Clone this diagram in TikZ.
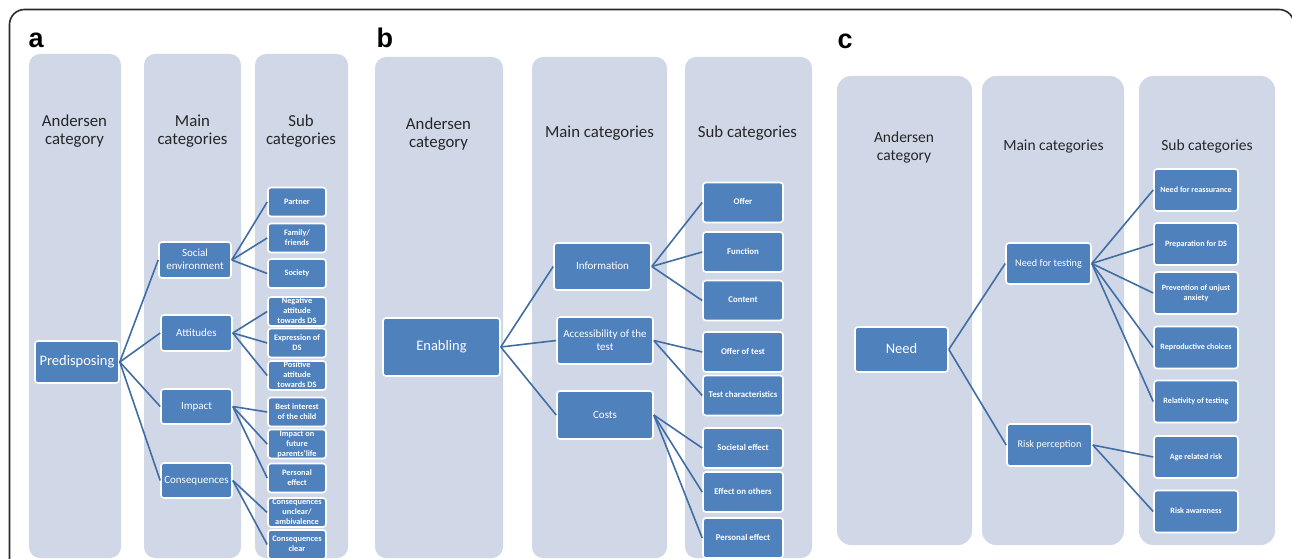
\documentclass[tikz,border=0pt]{standalone}
\usepackage{fontspec}
\setmainfont{Carlito}
\newfontfamily\labfont{Liberation Sans}
\definecolor{colbg}{HTML}{D0D8E8}
\definecolor{nodeblue}{HTML}{4F81BD}
\definecolor{connc}{HTML}{416DA3}
\definecolor{hdrcol}{HTML}{262626}
\definecolor{framecol}{HTML}{2A2A2A}
\newcommand\stk[1]{\makebox[0pt]{\smash{\raisebox{-0.3em}{\begin{tabular}{@{}c@{}}#1\end{tabular}}}}}
\begin{document}
\begin{tikzpicture}[x=1pt,y=-1pt,
  colbox/.style={fill=colbg, draw=none, rounded corners=11pt},
  nbox/.style={rectangle, fill=nodeblue, draw=white, line width=1.6pt, rounded corners=3pt, text=white, inner sep=0pt},
  topbox/.style={nbox, font=\fontsize{14.5}{16}\selectfont},
  mainab/.style={nbox, font=\fontsize{11}{13}\selectfont},
  mainc/.style={nbox, font=\fontsize{10.2}{12}\selectfont},
  suba/.style={nbox, minimum width=58pt, minimum height=29pt, font=\bfseries\fontsize{8.3}{10}\selectfont},
  subb/.style={nbox, minimum width=80pt, minimum height=40pt, font=\bfseries\fontsize{8.8}{10.5}\selectfont},
  subc/.style={nbox, minimum width=84pt, minimum height=42pt, font=\bfseries\fontsize{8.1}{10}\selectfont},
  conn/.style={draw=connc, line width=1.6pt},
  hdra/.style={text=hdrcol, align=center, inner sep=0pt, font=\fontsize{16.8}{18}\selectfont},
  hdrc/.style={text=hdrcol, align=center, inner sep=0pt, font=\fontsize{15.5}{18}\selectfont},
  plabel/.style={font=\labfont\bfseries\fontsize{27}{27}\selectfont, anchor=base west, inner sep=0pt, text=black}
]
\useasboundingbox (0,0) rectangle (1292,559);
\clip (0,0) rectangle (1292,559);
\fill[white] (0,0) rectangle (1292,559);
\draw[framecol, line width=1.6pt, rounded corners=15pt] (9.5,9.5) rectangle (1294,650);

% ---------- panel a ----------
\node[plabel] (la) at (28.5,48) {a};
\fill[colbox] (29,54) rectangle (121,558);
\fill[colbox] (144,54) rectangle (241,558);
\fill[colbox] (255,54) rectangle (348,558);
\node[hdra] (ha1) at (74.5,131) {Andersen\\category};
\node[hdra] (ha2) at (192.5,131) {Main\\categories};
\node[hdra] (ha3) at (301,131) {Sub\\categories};

\node[topbox, minimum width=84pt, minimum height=42pt] (pred) at (77,362) {\stk{Predisposing}};
\node[mainab, minimum width=72pt, minimum height=36pt] (soc) at (195,260) {\stk{Social\\environment}};
\node[mainab, minimum width=71pt, minimum height=36pt] (att) at (196.5,333) {\stk{Attitudes}};
\node[mainab, minimum width=71pt, minimum height=35pt] (imp) at (196.5,406.5) {\stk{Impact}};
\node[mainab, minimum width=71pt, minimum height=35pt] (cons) at (196.5,480.5) {\stk{Consequences}};

\node[suba] (partner) at (297,202) {\stk{Partner}};
\node[suba] (family) at (297,238) {\stk{Family/\\friends}};
\node[suba] (society) at (297,273.5) {\stk{Society}};
\node[suba] (neg) at (297,311.5) {\stk{Negative\\attitude\\towards DS}};
\node[suba] (expr) at (297,343) {\stk{Expression of\\DS}};
\node[suba] (pos) at (297,375.5) {\stk{Positive\\attitude\\towards DS}};
\node[suba] (best) at (297,412) {\stk{Best interest\\of the child}};
\node[suba] (impfut) at (297,444) {\stk{Impact on\\future\\parents’life}};
\node[suba] (persa) at (297,478) {\stk{Personal\\effect}};
\node[suba] (consunc) at (297,512.5) {\stk{Consequences\\unclear/\\ambivalence}};
\node[suba] (consclr) at (297,544.5) {\stk{Consequences\\clear}};

\foreach \m in {soc,att,imp,cons} \draw[conn] (pred.east) -- (\m.west);
\foreach \s in {partner,family,society} \draw[conn] (soc.east) -- (\s.west);
\foreach \s in {neg,expr,pos} \draw[conn] (att.east) -- (\s.west);
\foreach \s in {best,impfut,persa} \draw[conn] (imp.east) -- (\s.west);
\foreach \s in {consunc,consclr} \draw[conn] (cons.east) -- (\s.west);

% ---------- panel b ----------
\node[plabel] (lb) at (376.5,48) {b};
\fill[colbox] (375,57) rectangle (503,558);
\fill[colbox] (532,57) rectangle (667,558);
\fill[colbox] (685,57) rectangle (812,558);
\node[hdra] (hb1) at (438.5,134) {Andersen\\category};
\node[hdra] (hb2) at (599.5,133.5) {Main categories};
\node[hdra] (hb3) at (747.5,133.5) {Sub categories};

\node[topbox, minimum width=117pt, minimum height=58pt] (en) at (441.5,347) {\stk{Enabling}};
\node[mainab, minimum width=97pt, minimum height=47pt] (info) at (602.5,266.5) {\stk{Information}};
\node[mainab, minimum width=96pt, minimum height=47pt] (acc) at (605,340.5) {\stk{Accessibility of the\\test}};
\node[mainab, minimum width=96pt, minimum height=48pt] (costs) at (605,415) {\stk{Costs}};

\node[subb] (offer) at (743,202.5) {\stk{Offer}};
\node[subb] (func) at (743,252) {\stk{Function}};
\node[subb] (content) at (743,300.5) {\stk{Content}};
\node[subb] (offtest) at (743,352) {\stk{Offer of test}};
\node[subb] (testch) at (743,395.5) {\stk{Test characteristics}};
\node[subb] (societal) at (743,448) {\stk{Societal effect}};
\node[subb] (others) at (743,492) {\stk{Effect on others}};
\node[subb] (persb) at (743,538) {\stk{Personal effect}};

\foreach \m in {info,acc,costs} \draw[conn] (en.east) -- (\m.west);
\foreach \s in {offer,func,content} \draw[conn] (info.east) -- (\s.west);
\foreach \s in {offtest,testch} \draw[conn] (acc.east) -- (\s.west);
\foreach \s in {societal,others,persb} \draw[conn] (costs.east) -- (\s.west);

% ---------- panel c ----------
\node[plabel] (lc) at (837.5,49) {c};
\fill[colbox, rounded corners=14pt] (837,76) rectangle (972,545);
\fill[colbox, rounded corners=14pt] (982,76) rectangle (1124,545);
\fill[colbox, rounded corners=14pt] (1139,76) rectangle (1275,545);
\node[hdrc] (hc1) at (904,147) {Andersen\\category};
\node[hdrc] (hc2) at (1053.5,146.5) {Main categories};
\node[hdrc] (hc3) at (1207,146.5) {Sub categories};

\node[topbox, minimum width=93pt, minimum height=45pt] (need) at (901.5,349.5) {\stk{Need}};
\node[mainc, minimum width=85pt, minimum height=41pt] (nft) at (1048.5,263.5) {\stk{Need for testing}};
\node[mainc, minimum width=85pt, minimum height=42pt] (risk) at (1049.5,445) {\stk{Risk perception}};

\node[subc] (reass) at (1196,190) {\stk{Need for reassurance}};
\node[subc] (prep) at (1196,244) {\stk{Preparation for DS}};
\node[subc] (prev) at (1196,293) {\stk{Prevention of unjust\\anxiety}};
\node[subc] (repro) at (1196,347.5) {\stk{Reproductive choices}};
\node[subc] (rel) at (1196,401.5) {\stk{Relativity of testing}};
\node[subc] (age) at (1196,457) {\stk{Age related risk}};
\node[subc] (aware) at (1196,511.5) {\stk{Risk awareness}};

\foreach \m in {nft,risk} \draw[conn] (need.east) -- (\m.west);
\foreach \s in {reass,prep,prev,repro,rel} \draw[conn] (nft.east) -- (\s.west);
\foreach \s in {age,aware} \draw[conn] (risk.east) -- (\s.west);
\end{tikzpicture}
\end{document}
